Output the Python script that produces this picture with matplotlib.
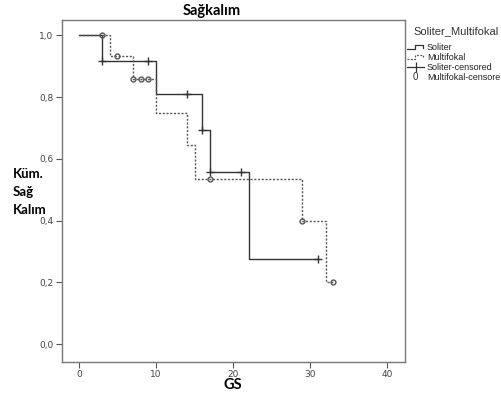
import matplotlib.pyplot as plt
from matplotlib.lines import Line2D

# Kaplan-Meier steps
sol_t = [0, 3, 10, 16, 17, 22, 31]
sol_s = [1.0, 0.917, 0.811, 0.694, 0.557, 0.276, 0.276]
sol_cens_t = [3, 9, 14, 16, 17, 21, 31]
sol_cens_s = [0.917, 0.917, 0.811, 0.694, 0.557, 0.557, 0.276]

mul_t = [0, 4, 7, 10, 14, 15, 29, 32, 33]
mul_s = [1.0, 0.933, 0.86, 0.750, 0.644, 0.536, 0.40, 0.20, 0.20]
mul_cens_t = [3, 5, 7, 8, 9, 17, 29, 33]
mul_cens_s = [1.0, 0.933, 0.86, 0.86, 0.86, 0.536, 0.40, 0.20]

xticks = [0, 10, 20, 30, 40]
yticks = [0.0, 0.2, 0.4, 0.6, 0.8, 1.0]
ytick_labels = ['0,0', '0,2', '0,4', '0,6', '0,8', '1,0']
legend_labels = ['Soliter', 'Multifokal', 'Soliter-censored', 'Multifokal-censore']

W, H = 502, 396
fig = plt.figure(figsize=(W / 100, H / 100), dpi=100)
ax = fig.add_axes([62 / W, 1 - 362 / H, (405 - 62) / W, (362 - 20) / H])

line_c = '#333333'
ax.plot(sol_t, sol_s, drawstyle='steps-post', color=line_c, lw=1.0)
ax.plot(mul_t, mul_s, drawstyle='steps-post', color='#555555', lw=1.0,
        linestyle=(0, (1.5, 1.2)))
ax.plot(sol_cens_t, sol_cens_s, '+', color=line_c, ms=6, mew=1.0)
ax.plot(mul_cens_t, mul_cens_s, 'o', mfc='none', mec='#555555', ms=3.5, mew=1.0)

ax.set_xlim(-2.2, 42.3)
ax.set_ylim(-0.058, 1.05)
ax.set_xticks(xticks)
ax.set_xticklabels([str(v) for v in xticks])
ax.set_yticks(yticks)
ax.set_yticklabels(ytick_labels)
ax.tick_params(labelsize=6.5, labelcolor='#444444', color='#555555',
               length=4, width=0.8, pad=2)
for sp in ax.spines.values():
    sp.set_color('#777777')
    sp.set_linewidth(1.0)

bold = dict(family='Lato', weight='bold', color='black')
fig.text(212 / W, 1 - 11 / H, 'Sağkalım', ha='center', va='center', fontsize=10.5, **bold)
fig.text(233 / W, 1 - 385 / H, 'GS', ha='center', va='center', fontsize=10.5, **bold)
for txt, yy in zip(['Küm.', 'Sağ', 'Kalım'], [174, 192, 210]):
    fig.text(13 / W, 1 - yy / H, txt, ha='left', va='center', fontsize=9.5, **bold)

# legend outside the frame
fig.text(413 / W, 1 - 31 / H, 'Soliter_Multifokal', ha='left', va='center',
         fontsize=8, color='#333333', family='Liberation Sans')
ys = [47, 57, 67, 77]
for lab, yy in zip(legend_labels, ys):
    fig.text(427 / W, 1 - yy / H, lab, ha='left', va='center', fontsize=6.5,
             color='#222222', family='Liberation Sans')
def fx(px):
    return px / W
def fy(py):
    return 1 - py / H
fig.add_artist(Line2D([fx(407), fx(415), fx(415), fx(423), fx(423)],
                      [fy(49), fy(49), fy(45), fy(45), fy(48)], color=line_c, lw=0.9))
fig.add_artist(Line2D([fx(407), fx(415), fx(415), fx(423), fx(423)],
                      [fy(59), fy(59), fy(55), fy(55), fy(58)], color='#555555', lw=0.9,
                      linestyle=(0, (1.5, 1.2))))
fig.add_artist(Line2D([fx(407), fx(424)], [fy(67), fy(67)], color=line_c, lw=0.9))
fig.add_artist(Line2D([fx(415.5)], [fy(67)], marker='|', ms=7, mew=0.9, color=line_c))
fig.text(415 / W, 1 - 77 / H, '0', ha='center', va='center', fontsize=7,
         color='#333333', family='Liberation Sans')

fig.savefig('out.png', dpi=100)
